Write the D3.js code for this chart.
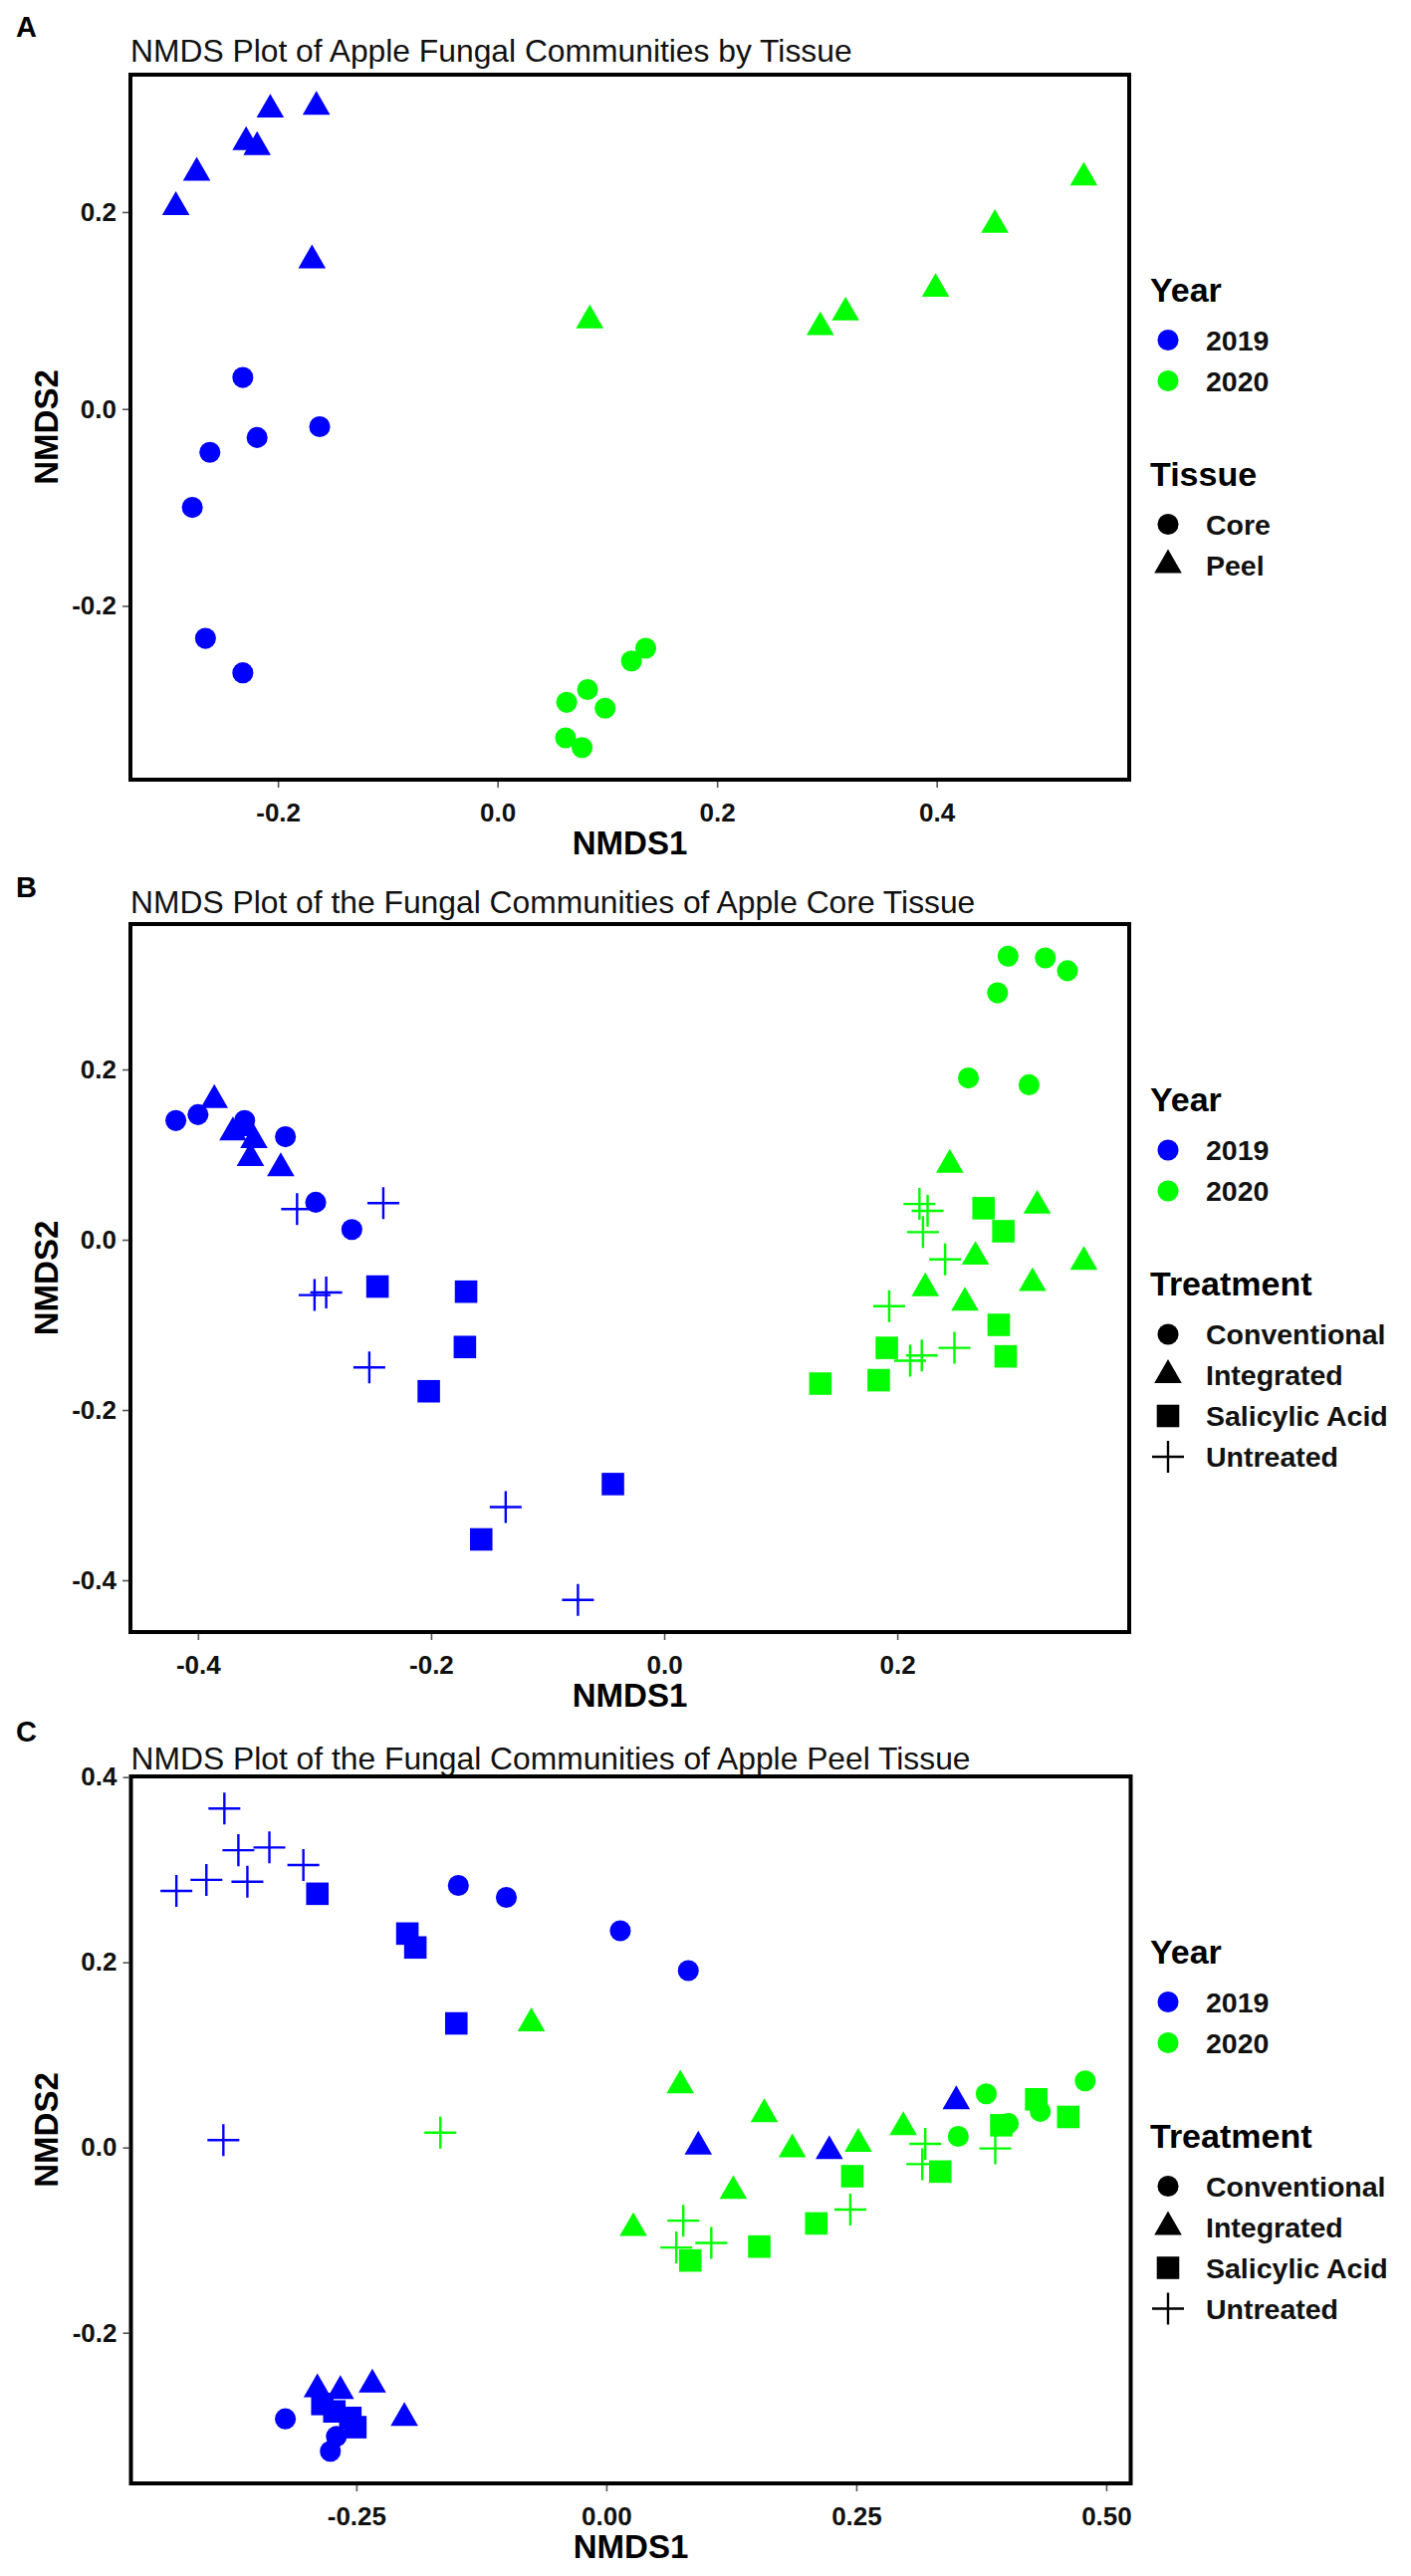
<!DOCTYPE html>
<html>
<head>
<meta charset="utf-8">
<script src="https://cdn.jsdelivr.net/npm/d3@7"></script>
<style>
	body { margin: 0; background: #fff; }
	svg { display: block; font-family: "Liberation Sans", Arial, sans-serif; }
</style>
</head>
<body>
<svg id="chart"></svg>
<script>

// categories
const years = ["2019", "2020"]
const tissues = ["Core", "Peel"]
const treatments = ["Conventional", "Integrated", "Salicylic Acid", "Untreated"]

// panel A - by tissue, [NMDS1, NMDS2]
const tissue2019Core = [[-0.232, 0.032], [-0.162, -0.018], [-0.219, -0.029], [-0.262, -0.044], [-0.278, -0.100], [-0.266, -0.233], [-0.232, -0.268]]
const tissue2019Peel = [[-0.293, 0.205], [-0.274, 0.240], [-0.229, 0.271], [-0.219, 0.266], [-0.207, 0.304], [-0.165, 0.307], [-0.169, 0.151]]
const tissue2020Core = [[0.135, -0.243], [0.122, -0.256], [0.082, -0.285], [0.063, -0.298], [0.098, -0.304], [0.062, -0.334], [0.077, -0.344]]
const tissue2020Peel = [[0.084, 0.090], [0.294, 0.083], [0.317, 0.098], [0.399, 0.122], [0.453, 0.187], [0.534, 0.235]]

// panel B - core tissue by treatment
const core2019Conventional = [[-0.419, 0.140], [-0.400, 0.147], [-0.360, 0.140], [-0.325, 0.121], [-0.299, 0.044], [-0.268, 0.012]]
const core2019Integrated = [[-0.386, 0.164], [-0.370, 0.126], [-0.360, 0.131], [-0.352, 0.117], [-0.355, 0.096], [-0.329, 0.084]]
const core2019Salicylic = [[-0.246, -0.055], [-0.170, -0.061], [-0.171, -0.126], [-0.202, -0.178], [-0.044, -0.287], [-0.157, -0.352]]
const core2019Untreated = [[-0.315, 0.036], [-0.241, 0.043], [-0.300, -0.065], [-0.290, -0.062], [-0.253, -0.150], [-0.136, -0.314], [-0.074, -0.423]]
const core2020Conventional = [[0.295, 0.333], [0.327, 0.331], [0.346, 0.316], [0.286, 0.290], [0.261, 0.190], [0.313, 0.182]]
const core2020Integrated = [[0.245, 0.088], [0.320, 0.040], [0.267, -0.020], [0.360, -0.026], [0.224, -0.057], [0.316, -0.051], [0.258, -0.074]]
const core2020Salicylic = [[0.274, 0.037], [0.291, 0.010], [0.287, -0.100], [0.191, -0.127], [0.293, -0.137], [0.184, -0.165], [0.134, -0.169]]
const core2020Untreated = [[0.219, 0.042], [0.226, 0.034], [0.222, 0.009], [0.241, -0.023], [0.193, -0.078], [0.249, -0.127], [0.211, -0.142], [0.221, -0.136]]

// panel C - peel tissue by treatment
const peel2019Conventional = [[-0.148, 0.283], [-0.100, 0.270], [0.014, 0.234], [0.082, 0.191], [-0.321, -0.293], [-0.270, -0.312], [-0.276, -0.328]]
const peel2019Integrated = [[0.092, 0.001], [0.223, -0.004], [0.350, 0.050], [-0.289, -0.261], [-0.266, -0.263], [-0.234, -0.256], [-0.202, -0.292]]
const peel2019Salicylic = [[-0.289, 0.274], [-0.199, 0.231], [-0.191, 0.216], [-0.150, 0.134], [-0.284, -0.277], [-0.272, -0.285], [-0.256, -0.292], [-0.251, -0.302]]
const peel2019Untreated = [[-0.382, 0.366], [-0.368, 0.321], [-0.337, 0.324], [-0.359, 0.287], [-0.400, 0.289], [-0.430, 0.277], [-0.303, 0.305], [-0.383, 0.008]]
const peel2020Conventional = [[0.380, 0.058], [0.352, 0.012], [0.402, 0.026], [0.434, 0.039], [0.479, 0.072]]
const peel2020Integrated = [[-0.075, 0.134], [0.074, 0.067], [0.158, 0.036], [0.186, -0.002], [0.252, 0.004], [0.297, 0.022], [0.127, -0.047], [0.027, -0.087]]
const peel2020Salicylic = [[0.430, 0.052], [0.395, 0.024], [0.462, 0.033], [0.334, -0.026], [0.246, -0.031], [0.210, -0.082], [0.153, -0.107], [0.084, -0.122]]
const peel2020Untreated = [[-0.166, 0.016], [0.319, 0.004], [0.316, -0.018], [0.389, -0.001], [0.244, -0.067], [0.077, -0.079], [0.070, -0.108], [0.105, -0.103]]

// ticks
const tissueXTicks = [-0.2, 0.0, 0.2, 0.4]
const tissueXLabels = ["-0.2", "0.0", "0.2", "0.4"]
const tissueYTicks = [-0.2, 0.0, 0.2]
const tissueYLabels = ["-0.2", "0.0", "0.2"]
const coreXTicks = [-0.4, -0.2, 0.0, 0.2]
const coreXLabels = ["-0.4", "-0.2", "0.0", "0.2"]
const coreYTicks = [-0.4, -0.2, 0.0, 0.2]
const coreYLabels = ["-0.4", "-0.2", "0.0", "0.2"]
const peelXTicks = [-0.25, 0.0, 0.25, 0.5]
const peelXLabels = ["-0.25", "0.00", "0.25", "0.50"]
const peelYTicks = [-0.2, 0.0, 0.2, 0.4]
const peelYLabels = ["-0.2", "0.0", "0.2", "0.4"]

const yearColor = d3.scaleOrdinal().domain(years).range(["#0000ff", "#00ff00"])

const symbolOf = {
	"Core": d3.symbolCircle, "Conventional": d3.symbolCircle,
	"Peel": d3.symbolTriangle, "Integrated": d3.symbolTriangle,
	"Salicylic Acid": d3.symbolSquare,
	"Untreated": d3.symbolPlus
}
const sizeOf = { circle: 350, triangle: 330, square: 510, plus: 336 }

function symbolPath(group) {
	const type = symbolOf[group]
	const size = type === d3.symbolCircle ? sizeOf.circle
		: type === d3.symbolTriangle ? sizeOf.triangle
		: type === d3.symbolSquare ? sizeOf.square : sizeOf.plus
	return d3.symbol().type(type).size(size)()
}

function rows(year, group, pts) {
	return pts.map(p => ({ year, group, x: p[0], y: p[1] }))
}

// ggplot-like 5% expansion
function expand(ext) {
	const pad = (ext[1] - ext[0]) * 0.05
	return [ext[0] - pad, ext[1] + pad]
}

const panels = [
	{
		label: "A", labelY: 37,
		title: "NMDS Plot of Apple Fungal Communities by Tissue", titleY: 62,
		box: { left: 131, right: 1134, top: 75, bottom: 783 },
		shapeTitle: "Tissue", shapes: tissues,
		data: [].concat(
			rows("2019", "Core", tissue2019Core), rows("2019", "Peel", tissue2019Peel),
			rows("2020", "Core", tissue2020Core), rows("2020", "Peel", tissue2020Peel)),
		xTicks: tissueXTicks, xLabels: tissueXLabels, yTicks: tissueYTicks, yLabels: tissueYLabels
	},
	{
		label: "B", labelY: 901,
		title: "NMDS Plot of the Fungal Communities of Apple Core Tissue", titleY: 917,
		box: { left: 131, right: 1134, top: 928, bottom: 1639 },
		shapeTitle: "Treatment", shapes: treatments,
		data: [].concat(
			rows("2019", "Conventional", core2019Conventional), rows("2019", "Integrated", core2019Integrated),
			rows("2019", "Salicylic Acid", core2019Salicylic), rows("2019", "Untreated", core2019Untreated),
			rows("2020", "Conventional", core2020Conventional), rows("2020", "Integrated", core2020Integrated),
			rows("2020", "Salicylic Acid", core2020Salicylic), rows("2020", "Untreated", core2020Untreated)),
		xTicks: coreXTicks, xLabels: coreXLabels, yTicks: coreYTicks, yLabels: coreYLabels
	},
	{
		label: "C", labelY: 1749,
		title: "NMDS Plot of the Fungal Communities of Apple Peel Tissue", titleY: 1777,
		box: { left: 131.5, right: 1135.5, top: 1784, bottom: 2494 },
		shapeTitle: "Treatment", shapes: treatments,
		data: [].concat(
			rows("2019", "Conventional", peel2019Conventional), rows("2019", "Integrated", peel2019Integrated),
			rows("2019", "Salicylic Acid", peel2019Salicylic), rows("2019", "Untreated", peel2019Untreated),
			rows("2020", "Conventional", peel2020Conventional), rows("2020", "Integrated", peel2020Integrated),
			rows("2020", "Salicylic Acid", peel2020Salicylic), rows("2020", "Untreated", peel2020Untreated)),
		xTicks: peelXTicks, xLabels: peelXLabels, yTicks: peelYTicks, yLabels: peelYLabels
	}
]

const svg = d3.select("#chart").attr("width", 1417).attr("height", 2587)

function drawMark(sel, group, color) {
	const plus = symbolOf[group] === d3.symbolPlus
	sel.attr("d", symbolPath(group))
		.attr("fill", plus ? "none" : color)
		.attr("stroke", plus ? color : "none")
		.attr("stroke-width", plus ? 2.4 : 0)
}

function drawPanel(p) {
	const b = p.box
	const g = svg.append("g")

	const x = d3.scaleLinear().domain(expand(d3.extent(p.data, d => d.x))).range([b.left, b.right])
	const y = d3.scaleLinear().domain(expand(d3.extent(p.data, d => d.y))).range([b.bottom, b.top])

	// panel letter + title
	g.append("text").attr("x", 16).attr("y", p.labelY)
		.attr("font-size", 29).attr("font-weight", "bold").text(p.label)
	g.append("text").attr("x", b.left).attr("y", p.titleY)
		.attr("font-size", 31.8).attr("fill", "#111").text(p.title)

	// axes
	const xAxis = g.append("g").attr("transform", `translate(0,${b.bottom + 2})`)
		.call(d3.axisBottom(x).tickValues(p.xTicks).tickFormat((d, i) => p.xLabels[i])
			.tickSize(6).tickPadding(16).tickSizeOuter(0))
	const yAxis = g.append("g").attr("transform", `translate(${b.left - 2},0)`)
		.call(d3.axisLeft(y).tickValues(p.yTicks).tickFormat((d, i) => p.yLabels[i])
			.tickSize(6).tickPadding(6).tickSizeOuter(0))
	for (const ax of [xAxis, yAxis]) {
		ax.select(".domain").remove()
		ax.selectAll(".tick line").attr("stroke", "#555").attr("stroke-width", 1.6)
		ax.selectAll(".tick text").attr("font-size", 26).attr("font-weight", "bold")
			.attr("fill", "#111").attr("font-family", "Liberation Sans, Arial, sans-serif")
	}

	g.append("text").attr("x", (b.left + b.right) / 2).attr("y", b.bottom + 75)
		.attr("text-anchor", "middle").attr("font-size", 33).attr("font-weight", "bold")
		.text("NMDS1")
	g.append("text")
		.attr("transform", `translate(58,${(b.top + b.bottom) / 2}) rotate(-90)`)
		.attr("text-anchor", "middle").attr("font-size", 33).attr("font-weight", "bold")
		.text("NMDS2")

	// points
	g.append("g").selectAll("path")
		.data(p.data)
		.join("path")
		.attr("transform", d => `translate(${x(d.x)},${y(d.y)})`)
		.each(function (d) { drawMark(d3.select(this), d.group, yearColor(d.year)) })

	// border
	g.append("rect")
		.attr("x", b.left).attr("y", b.top)
		.attr("width", b.right - b.left).attr("height", b.bottom - b.top)
		.attr("fill", "none").attr("stroke", "#000").attr("stroke-width", 4)

	// legend
	const titleGap = 51, rowGap = 41, blockGap = 93
	const items = []
	let cy = 0
	items.push({ kind: "title", text: "Year", y: cy })
	years.forEach((yr, i) => { cy = titleGap + i * rowGap; items.push({ kind: "year", text: yr, y: cy }) })
	cy += blockGap
	items.push({ kind: "title", text: p.shapeTitle, y: cy })
	const shapeTop = cy
	p.shapes.forEach((s, i) => { cy = shapeTop + titleGap + i * rowGap; items.push({ kind: "shape", text: s, y: cy }) })

	const offset = (b.top + b.bottom) / 2 - cy / 2
	const legend = g.append("g").attr("transform", `translate(0,${offset})`)

	legend.selectAll("text.title")
		.data(items.filter(d => d.kind === "title"))
		.join("text").attr("class", "title")
		.attr("x", 1155).attr("y", d => d.y).attr("dy", "0.36em")
		.attr("font-size", 34).attr("font-weight", "bold").text(d => d.text)

	const entries = legend.selectAll("g.entry")
		.data(items.filter(d => d.kind !== "title"))
		.join("g").attr("class", "entry")
		.attr("transform", d => `translate(0,${d.y})`)
	entries.append("path")
		.attr("transform", "translate(1173,0)")
		.each(function (d) {
			if (d.kind === "year") drawMark(d3.select(this), "Core", yearColor(d.text))
			else drawMark(d3.select(this), d.text, "#000")
		})
	entries.append("text")
		.attr("x", 1211).attr("dy", "0.36em")
		.attr("font-size", 28.5).attr("font-weight", "bold").attr("fill", "#111")
		.text(d => d.text)
}

panels.forEach(drawPanel)

</script>
</body>
</html>
